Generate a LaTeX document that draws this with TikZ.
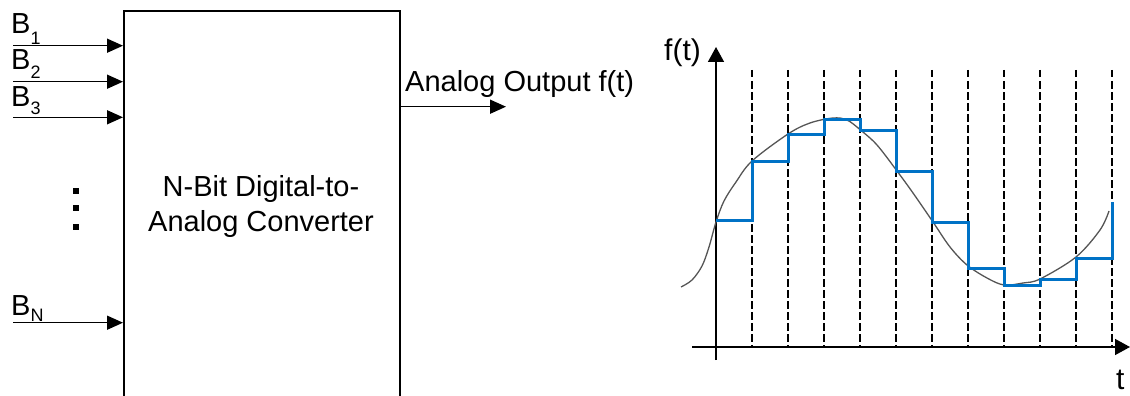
\documentclass[tikz,border=0pt]{standalone}
\usepackage{fontspec}
\setmainfont{Liberation Sans}
\usetikzlibrary{arrows.meta}
\definecolor{stairblue}{RGB}{0,114,198}
\definecolor{curvegray}{RGB}{85,85,85}
\newcommand{\mysubfont}{\fontsize{18}{18}\selectfont}
\tikzset{
  arr/.style={line width=1.5pt, -{Triangle[length=16pt,width=14pt]}},
  axisline/.style={line width=1.5pt, -{Triangle[length=15pt,width=16pt]}},
  dashline/.style={line width=1.3pt, dash pattern=on 7.5pt off 3.5pt},
  stair/.style={line width=3pt, draw=stairblue, line join=miter},
  curveline/.style={line width=1.3pt, draw=curvegray},
  lbl/.style={inner sep=0pt, font=\fontsize{29}{35}\selectfont},
  graphlbl/.style={inner sep=0pt, font=\fontsize{30}{36}\selectfont},
  dotbox/.style={fill=black, inner sep=0pt, minimum size=6pt},
}
\begin{document}
\begin{tikzpicture}[x=1pt, y=-1pt]
\useasboundingbox (0,0) rectangle (1130,396);

% converter box
\node[draw, line width=2pt, minimum width=276pt, minimum height=386pt,
      anchor=north west, inner sep=0pt] (dac) at (123,10) {};
\node[lbl, align=center] (dactext) at (261,206.5) {N-Bit Digital-to-\\Analog Converter};

% input labels
\node[lbl, anchor=base west] (lb1) at (11,33.3) {B\raisebox{-11.7pt}{\mysubfont 1}};
\node[lbl, anchor=base west] (lb2) at (11,70) {B\raisebox{-9pt}{\mysubfont 2}};
\node[lbl, anchor=base west] (lb3) at (11,106.5) {B\raisebox{-8.5pt}{\mysubfont 3}};
\node[lbl, anchor=base west] (lbn) at (11,315) {B\raisebox{-6.7pt}{\mysubfont N}};

% input arrows
\coordinate (s1) at (13,45.7);
\coordinate (s2) at (13,81.7);
\coordinate (s3) at (13,117.3);
\coordinate (sn) at (13,322.7);
\draw[arr] (s1) -- (s1 -| dac.west);
\draw[arr] (s2) -- (s2 -| dac.west);
\draw[arr] (s3) -- (s3 -| dac.west);
\draw[arr] (sn) -- (sn -| dac.west);

% vertical dots
\node[dotbox] (d1) at (75.7,191.2) {};
\node[dotbox] (d2) at (75.7,207.9) {};
\node[dotbox] (d3) at (75.7,227.2) {};

% output
\coordinate (outend) at (506,106.7);
\draw[arr] (dac.east |- outend) -- (outend);
\node[lbl, anchor=base west] (outlbl) at (405,92) {Analog Output f(t)};

% graph: dashed sample lines
\foreach \i in {1,...,11}
  \draw[dashline] ({716+36*\i},70) -- ({716+36*\i},347);

% axes
\coordinate (yb) at (716,360);
\coordinate (yt) at (716,47);
\coordinate (xl) at (692,347);
\coordinate (xr) at (1130,347);
\draw[axisline] (yb) -- (yt);
\draw[axisline] (xl) -- (xr);
\node[graphlbl, anchor=base west] (flbl) at (664,60) {f(t)};
\node[graphlbl, anchor=base west] (tlbl) at (1116,389.5) {t};

% analog curve
\draw[curveline] plot[smooth, tension=0.55] coordinates {
 (681,287) (692,280) (702,266) (709,247) (716,222) (724,201) (736,182) (752,161)
 (788,134) (810,123) (833,118) (847,120) (860.5,130) (877,145) (897,171)
 (913,193) (933,222) (950,247) (967,265) (987,278) (1004,285) (1023,283)
 (1040,279) (1076,257) (1100,230) (1109,211)};

% staircase
\draw[stair] (716,220) -- (752,220) -- (752,161) -- (788,161) -- (788,134)
  -- (824,134) -- (824,119) -- (860,119) -- (860,130) -- (896,130)
  -- (896,171) -- (932,171) -- (932,222) -- (968,222) -- (968,268)
  -- (1004,268) -- (1004,285) -- (1040,285) -- (1040,279) -- (1076,279)
  -- (1076,258) -- (1112,258) -- (1112,202);
\end{tikzpicture}
\end{document}
